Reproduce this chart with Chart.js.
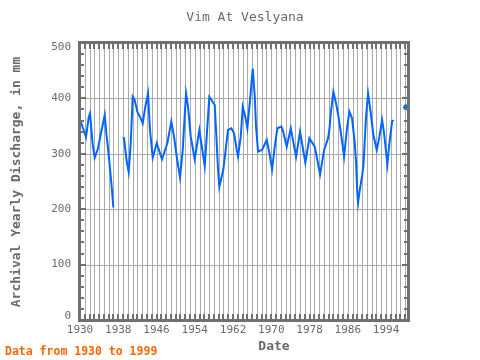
<!DOCTYPE html>
<html>
<head>
<meta charset="utf-8">
<script src="https://cdn.jsdelivr.net/npm/chart.js@4/dist/chart.umd.min.js"></script>
<style>
html,body{margin:0;padding:0;background:#fff;}
#wrap{width:480px;height:360px;}
</style>
</head>
<body>
<div id="wrap"><canvas id="c" width="480" height="360"></canvas></div>
<script>
// ---- data ----
const years = [
 1930.00,1930.98,1931.26,1931.82,1932.09,1932.66,1933.08,1933.77,1934.60,1935.17,1935.44,1936.00,1936.55,1936.76,1936.97,
 1938.00,
 1938.93,1939.21,1939.77,1940.19,1940.61,1941.03,1941.44,1941.99,1942.70,1943.12,1943.66,1944.23,1944.64,1945.21,1946.05,
 1947.15,1948.26,1949.10,1949.67,1950.23,1950.92,1951.49,1951.76,1952.18,1952.59,1953.16,1954.00,1954.96,1956.09,1957.05,
 1958.18,1958.45,1958.87,1959.14,1959.98,1960.54,1960.96,1961.65,1962.22,1962.78,1963.05,1963.62,1964.04,1964.58,1965.00,
 1965.56,1966.13,1966.55,1966.82,1967.24,1968.08,1969.06,1969.60,1970.17,1970.73,1971.28,1972.11,1972.41,1973.24,1974.08,
 1975.19,1976.03,1977.13,1977.97,1979.10,1980.21,1981.05,1981.88,1982.15,1982.45,1982.99,1983.56,1984.12,1984.67,1985.23,
 1985.80,1986.34,1986.90,1987.47,1987.74,1988.01,1988.16,1988.43,1989.00,1989.27,1989.83,1990.25,1990.82,1991.36,1992.07,
 1992.62,1993.18,1993.60,1994.29,1994.71,1995.27,1995.54
];
const discharge = [
 362,337,330,366,373,316,293,310,346,370,343,298,248,227,203,
 null,
 328,328,286,267,319,403,397,376,364,355,385,409,343,293,319,
 290,319,358,331,295,257,307,349,409,385,331,290,343,278,403,
 388,343,272,240,272,313,343,346,337,307,295,331,385,367,346,
 397,454,403,349,304,307,325,302,272,313,346,349,343,313,346,
 295,340,284,328,313,263,307,328,343,373,412,391,364,331,295,
 343,376,364,319,284,227,212,230,260,278,367,409,373,334,307,
 331,361,337,281,319,358,361
];
const lastYear = [1998.2];
const lastValue = [384];
const xTickLabels = [1930,1938,1946,1954,1962,1970,1978,1986,1994];
const yTickLabels = [0,100,200,300,400,500];

const lineData = years.map((y,i)=>({x:y,y:discharge[i]}));
const pointData = lastYear.map((y,i)=>({x:y,y:lastValue[i]}));

const FRAME = '#707070';
const GRID = '#aaaaaa';
const TXT = '#6a6a6a';
const MONO = '"DejaVu Sans Mono", "Liberation Mono", monospace';

const decor = {
  id:'decor',
  afterDraw(chart){
    const ctx = chart.ctx, a = chart.chartArea;
    const xs = chart.scales.x, ys = chart.scales.y;
    const t = Math.round(a.top), b = Math.round(a.bottom);
    const l = Math.round(a.left), r = Math.round(a.right);
    // grid, placed behind what is already drawn
    ctx.save();
    ctx.globalCompositeOperation = 'destination-over';
    ctx.fillStyle = GRID;
    for(let yr=1931; yr<=1998; yr++){
      const px = Math.round(xs.getPixelForValue(yr));
      ctx.fillRect(px, t, 1, b - t);
    }
    for(let v=100; v<500; v+=100){
      const py = Math.round(ys.getPixelForValue(v));
      ctx.fillRect(l, py, r - l, 1);
    }
    ctx.fillStyle = '#ffffff';
    ctx.fillRect(0, 0, chart.width, chart.height);
    ctx.restore();

    ctx.save();
    ctx.fillStyle = FRAME;
    for(let yr=1930; yr<=1998; yr++){
      const px = Math.round(xs.getPixelForValue(yr));
      ctx.fillRect(px-1, t, 2, 6);
      ctx.fillRect(px-1, b-6, 2, 6);
    }
    for(let v=0; v<=500; v+=20){
      const py = Math.round(ys.getPixelForValue(v));
      const len = (v%100===0)?6:4;
      ctx.fillRect(l, py-1, len, 2);
      ctx.fillRect(r-len, py-1, len, 2);
    }
    // frame
    ctx.fillRect(l-2, t-2, r-l+4, 3);
    ctx.fillRect(l-2, b-1, r-l+4, 3);
    ctx.fillRect(l-2, t-2, 3, b-t+4);
    ctx.fillRect(r-1, t-2, 3, b-t+4);
    // y tick labels (kept inside the frame's vertical range, as in the reference)
    ctx.fillStyle = TXT;
    ctx.font = '11px ' + MONO;
    ctx.textAlign = 'right';
    ctx.textBaseline = 'middle';
    yTickLabels.forEach(v=>{
      let py = ys.getPixelForValue(v);
      py = Math.min(Math.max(py, a.top+4), a.bottom-4);
      ctx.fillText(String(v), a.left-9, py);
    });
    ctx.textAlign = 'center';
    ctx.font = '13px ' + MONO;
    ctx.fillText('Vim At Veslyana', 245, 18);
    ctx.font = 'bold 13px ' + MONO;
    ctx.fillText('Date', 274, 347);
    ctx.save();
    ctx.translate(17, 182);
    ctx.rotate(-Math.PI/2);
    ctx.fillText('Archival Yearly Discharge, in mm', 0, 0);
    ctx.restore();
    ctx.fillStyle = '#ff6600';
    ctx.textAlign = 'left';
    ctx.font = 'bold 11.5px ' + MONO;
    ctx.fillText('Data from 1930 to 1999', 5, 352);
    ctx.restore();
  }
};

new Chart(document.getElementById('c'), {
  type:'line',
  data:{
    datasets:[
      {data:lineData, borderColor:'#0066ff', borderWidth:2, pointRadius:0, tension:0, spanGaps:false, fill:false},
      {data:pointData, borderColor:'#0066ff', backgroundColor:'#0066ff', pointRadius:2.5, showLine:false}
    ]
  },
  options:{
    responsive:false, animation:false,
    layout:{padding:{top:43,right:72,left:0,bottom:0}},
    plugins:{legend:{display:false}, title:{display:false}, tooltip:{enabled:false}},
    scales:{
      x:{
        type:'linear', min:1930, max:1998.6,
        afterFit(s){ s.height = 40; },
        border:{display:false},
        grid:{display:false, drawTicks:false},
        ticks:{
          stepSize:1, autoSkip:false, maxRotation:0, padding:4,
          color:TXT, font:{family:MONO, size:11},
          callback(v){ return xTickLabels.includes(v) ? String(v) : ''; }
        }
      },
      y:{
        min:0, max:500,
        afterFit(s){ s.width = 80; },
        border:{display:false},
        grid:{display:false, drawTicks:false},
        ticks:{ stepSize:100, display:false }
      }
    }
  },
  plugins:[decor]
});
</script>
</body>
</html>
